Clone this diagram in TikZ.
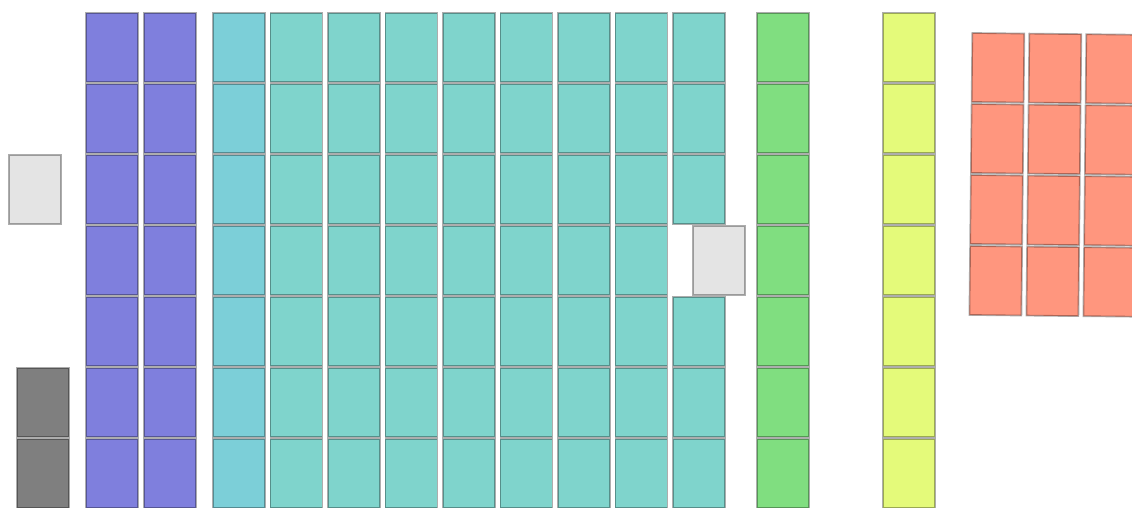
\documentclass[tikz,border=0pt]{standalone}
\definecolor{cpurple}{RGB}{127,127,221}
\definecolor{ccyan}{RGB}{124,207,216}
\definecolor{cteal}{RGB}{127,212,204}
\definecolor{cgreen}{RGB}{128,222,128}
\definecolor{cyellow}{RGB}{228,250,122}
\definecolor{csalmon}{RGB}{255,150,126}
\definecolor{clgray}{RGB}{228,228,228}
\definecolor{cdgray}{RGB}{127,127,127}
\begin{document}
\begin{tikzpicture}[x=1pt,y=-1pt,
  cell/.style={rectangle,anchor=north west,inner sep=0pt,minimum width=52pt,minimum height=69pt,
    draw=black,draw opacity=0.32,line width=1.7pt,fill=#1}]
\useasboundingbox (0,0) rectangle (1132,507);
% light gray cells
\node[cell=clgray] (g1) at (8,154) {};
\node[cell=clgray] (g2) at (692,225) {};
% dark gray
\node[cell=cdgray] (d1) at (16,367) {};
\node[cell=cdgray] (d2) at (16,438) {};
% purple
\foreach \c/\x in {1/85,2/143}
  \foreach \r in {0,...,6}
    \node[cell=cpurple] (p-\c-\r) at (\x,12+71*\r) {};
% cyan first column
\foreach \r in {0,...,6}
  \node[cell=ccyan] (c-\r) at (212,12+71*\r) {};
% teal columns
\foreach \c in {1,...,7}
  \foreach \r in {0,...,6}
    \node[cell=cteal] (t-\c-\r) at (212+57.5*\c,12+71*\r) {};
\foreach \r in {0,1,2,4,5,6}
  \node[cell=cteal] (t-8-\r) at (672,12+71*\r) {};
% green
\foreach \r in {0,...,6}
  \node[cell=cgreen] (gr-\r) at (756,12+71*\r) {};
% yellow
\foreach \r in {0,...,6}
  \node[cell=cyellow] (y-\r) at (882,12+71*\r) {};
% salmon block (slightly rotated)
\begin{scope}[rotate around={-0.6:(1054,175)},transform shape]
\foreach \c in {0,1,2}
  \foreach \r in {0,...,3}
    \node[cell=csalmon] (s-\c-\r) at (970+57*\c,33+71*\r) {};
\end{scope}
\end{tikzpicture}
\end{document}
